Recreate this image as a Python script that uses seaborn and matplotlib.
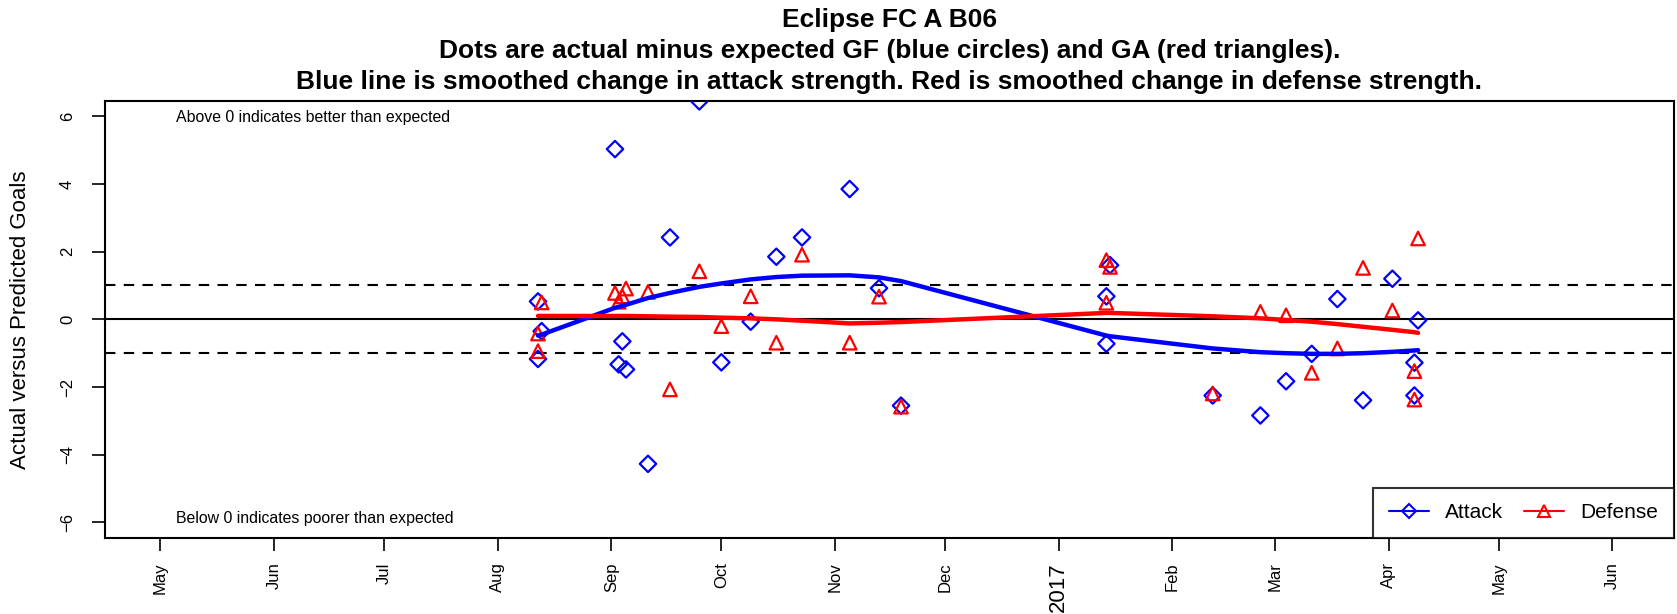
import numpy as np
import pandas as pd
import seaborn as sns
import matplotlib
matplotlib.use('Agg')
import matplotlib.pyplot as plt
from matplotlib.lines import Line2D

# match dates and actual-minus-expected goals
match_dates = ['2016-08-12', '2016-08-12', '2016-08-13', '2016-09-02', '2016-09-03',
               '2016-09-04', '2016-09-05', '2016-09-11', '2016-09-17', '2016-09-25',
               '2016-10-01', '2016-10-09', '2016-10-16', '2016-10-23', '2016-11-05',
               '2016-11-13', '2016-11-19', '2017-01-14', '2017-01-14', '2017-01-15',
               '2017-02-12', '2017-02-25', '2017-03-04', '2017-03-11', '2017-03-18',
               '2017-03-25', '2017-04-02', '2017-04-08', '2017-04-08', '2017-04-09']
gf_diff = [0.53, -1.17, -0.35, 5.03, -1.33, -0.65, -1.48, -4.27, 2.42, 6.44,
           -1.27, -0.07, 1.85, 2.42, 3.85, 0.92, -2.55, 0.68, -0.72, 1.60,
           -2.25, -2.84, -1.83, -1.02, 0.60, -2.39, 1.20, -1.28, -2.25, -0.03]
ga_diff = [-0.42, -0.94, 0.50, 0.78, 0.52, 0.68, 0.91, 0.81, -2.07, 1.42,
           -0.20, 0.68, -0.69, 1.91, -0.69, 0.67, -2.58, 1.75, 0.49, 1.55,
           -2.19, 0.22, 0.12, -1.58, -0.86, 1.52, 0.26, -1.53, -2.37, 2.39]
# smoothed change in strength at each match
attack_smooth = [-0.48, -0.48, -0.45, 0.34, 0.37, 0.40, 0.43, 0.63, 0.78, 0.96,
                 1.06, 1.18, 1.25, 1.29, 1.30, 1.24, 1.13, -0.48, -0.48, -0.50,
                 -0.86, -0.97, -1.00, -1.02, -1.02, -1.00, -0.96, -0.92, -0.92, -0.91]
defense_smooth = [0.10, 0.10, 0.10, 0.10, 0.10, 0.10, 0.10, 0.09, 0.08, 0.07,
                  0.05, 0.03, 0.00, -0.04, -0.12, -0.10, -0.08, 0.19, 0.19, 0.19,
                  0.09, 0.03, -0.02, -0.07, -0.14, -0.22, -0.31, -0.38, -0.38, -0.40]

month_ticks = pd.date_range('2016-05-01', '2017-06-01', freq='MS')
month_labels = ['May', 'Jun', 'Jul', 'Aug', 'Sep', 'Oct', 'Nov', 'Dec', '2017',
                'Feb', 'Mar', 'Apr', 'May', 'Jun']
y_ticks = [-6, -4, -2, 0, 2, 4, 6]

df = pd.DataFrame({'date': pd.to_datetime(match_dates),
                   'gf': gf_diff, 'ga': ga_diff,
                   'att': attack_smooth, 'def': defense_smooth})

sns.set_style('white')
plt.rcParams['font.family'] = ['Liberation Sans', 'DejaVu Sans']
plt.rcParams['text.color'] = 'black'
plt.rcParams['axes.labelcolor'] = 'black'
plt.rcParams['xtick.color'] = 'black'
plt.rcParams['ytick.color'] = 'black'

fig = plt.figure(figsize=(16.77, 6.14), dpi=100)
ax = fig.add_axes([0.0626, 0.1238, 0.9356, 0.7122])

ax.axhline(0, color='black', lw=1.5, zorder=1)
ax.axhline(1, color='black', lw=1.5, ls=(0, (5, 4)), zorder=1)
ax.axhline(-1, color='black', lw=1.5, ls=(0, (5, 4)), zorder=1)

sns.scatterplot(data=df, x='date', y='gf', ax=ax, marker='D', s=70,
                facecolor='none', edgecolor='blue', linewidth=1.6, zorder=3)
sns.scatterplot(data=df, x='date', y='ga', ax=ax, marker='^', s=95,
                facecolor='none', edgecolor='red', linewidth=1.6, zorder=3)
sns.lineplot(data=df, x='date', y='att', ax=ax, color='blue', lw=3.2,
             estimator=None, sort=False, zorder=4)
sns.lineplot(data=df, x='date', y='def', ax=ax, color='red', lw=3.2,
             estimator=None, sort=False, zorder=4)

ax.set_xlim(pd.Timestamp('2016-04-15 22:00'), pd.Timestamp('2017-06-17 19:00'))
ax.set_ylim(-6.46, 6.46)
ax.set_xticks(month_ticks)
ax.set_xticklabels(month_labels, rotation=90, fontsize=12)
for lab in ax.get_xticklabels():
    if lab.get_text() == '2017':
        lab.set_fontsize(16)
ax.set_yticks(y_ticks)
ax.set_yticklabels(['\u22126', '\u22124', '\u22122', '0', '2', '4', '6'],
                   rotation=90, va='center', fontsize=12)
ax.tick_params(axis='both', direction='out', length=9.5, width=1.2,
               color='black', labelcolor='black', bottom=True, left=True, pad=8)
ax.tick_params(axis='y', pad=12)
ax.set_xlabel('')
ax.set_ylabel('Actual versus Predicted Goals', fontsize=16, color='black')
ax.yaxis.set_label_coords(-0.047, 0.5)
for sp in ax.spines.values():
    sp.set_color('black')
    sp.set_linewidth(1.5)

ax.text(0.045, 0.961, 'Above 0 indicates better than expected',
        transform=ax.transAxes, fontsize=11.4, va='center', ha='left')
ax.text(0.045, 0.0435, 'Below 0 indicates poorer than expected',
        transform=ax.transAxes, fontsize=11.4, va='center', ha='left')

title_lines = ['Eclipse FC A B06',
               'Dots are actual minus expected GF (blue circles) and GA (red triangles).',
               'Blue line is smoothed change in attack strength. Red is smoothed change in defense strength.']
for line, ypix in zip(title_lines, [20, 51, 82]):
    fig.text(0.5304, 1 - ypix / 614, line, fontsize=19, fontweight='bold',
             ha='center', va='center', color='black')

handles = [Line2D([], [], color='blue', lw=1.5, marker='D', ms=7,
                  markerfacecolor='none', markeredgewidth=1.5),
           Line2D([], [], color='red', lw=1.5, marker='^', ms=8,
                  markerfacecolor='none', markeredgewidth=1.5)]
leg = ax.legend(handles, ['Attack', 'Defense'], loc='lower right', ncol=2,
                fontsize=15, frameon=True, fancybox=False, borderaxespad=0,
                handlelength=1.9, handletextpad=0.8, columnspacing=1.0,
                borderpad=0.75)
leg.get_frame().set_edgecolor('black')
leg.get_frame().set_linewidth(1.5)

fig.savefig('out.png', dpi=100)
